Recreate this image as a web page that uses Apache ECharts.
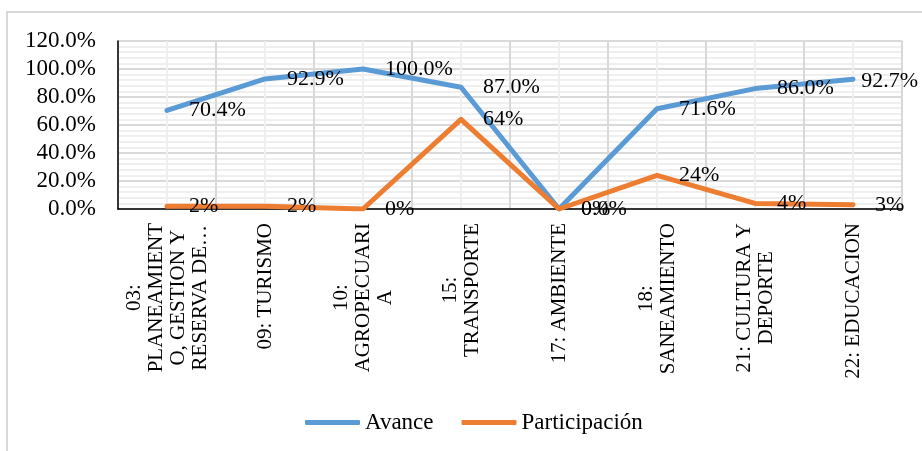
<!DOCTYPE html>
<html>
<head>
<meta charset="utf-8">
<script src="https://cdn.jsdelivr.net/npm/echarts@6/dist/echarts.min.js"></script>
<style>
  html, body { margin: 0; padding: 0; background: #fff; }
  #chart { width: 922px; height: 451px; }
</style>
</head>
<body>
<div id="chart"></div>
<script>
// Category names, wrapped the way they are printed under the axis
const categories = [
  '03:\nPLANEAMIENT\nO, GESTION Y\nRESERVA DE…',
  '09: TURISMO',
  '10:\nAGROPECUARI\nA',
  '15:\nTRANSPORTE',
  '17: AMBIENTE',
  '18:\nSANEAMIENTO',
  '21: CULTURA Y\nDEPORTE',
  '22: EDUCACION'
];

// Percent values per category
const avance = [70.4, 92.9, 100.0, 87.0, 0.0, 71.6, 86.0, 92.7];
const participacion = [2, 2, 0, 64, 0, 24, 4, 3];

// Value axis ticks (percent)
const yTicks = [0, 20, 40, 60, 80, 100, 120];

const FONT = "'Times New Roman', 'Liberation Serif', serif";
const BLUE = '#5B9BD5';
const ORANGE = '#ED7D31';

const chart = echarts.init(document.getElementById('chart'), null, { renderer: 'canvas' });

// keep value labels inside the chart's right edge
function keepInside(p) {
  const r = p.labelRect;
  const maxRight = 918;
  if (r.x + r.width > maxRight) {
    return { x: maxRight - r.width, y: r.y + r.height / 2, align: 'left', verticalAlign: 'middle' };
  }
}

function lineSeries(name, values, color, digits, z) {
  return {
    name: name,
    type: 'line',
    xAxisIndex: 0,
    data: values,
    symbol: 'circle',
    symbolSize: 2,
    showSymbol: true,
    color: color,
    itemStyle: { color: color },
    lineStyle: { color: color, width: 5, cap: 'round', join: 'round' },
    label: {
      show: true,
      position: 'right',
      distance: 21,
      offset: [0, 2],
      fontFamily: FONT,
      fontSize: 22,
      color: '#000',
      formatter: p => p.value.toFixed(digits) + '%'
    },
    labelLayout: keepInside,
    z: z
  };
}

const option = {
  animation: false,
  backgroundColor: '#fff',
  textStyle: { fontFamily: FONT, color: '#000' },
  graphic: [{
    type: 'rect',
    shape: { x: 7, y: 12, width: 1000, height: 1000 },
    style: { fill: 'none', stroke: '#d9d9d9', lineWidth: 2 },
    silent: true
  }],
  grid: { left: 118, top: 41, width: 784, height: 168, containLabel: false },
  legend: {
    left: 300,
    top: 406,
    itemWidth: 55,
    itemHeight: 5,
    itemGap: 28,
    icon: 'roundRect',
    textStyle: { fontFamily: FONT, fontSize: 23, color: '#000' },
    data: ['Avance', 'Participación']
  },
  xAxis: [{
    type: 'category',
    data: categories,
    boundaryGap: true,
    axisLine: { show: true, lineStyle: { color: '#000', width: 1.5 } },
    axisTick: { show: false },
    splitLine: { show: false },
    axisLabel: {
      interval: 0,
      rotate: 90,
      margin: 14,
      color: '#000',
      fontFamily: FONT,
      fontSize: 21,
      formatter: v => v.split('\n').map(l => '{c|' + l + '}').join('\n'),
      rich: { c: { align: 'center', fontFamily: FONT, fontSize: 21, lineHeight: 22, color: '#000' } }
    }
  }, {
    // vertical gridlines at category edges and centres
    type: 'value',
    min: 0,
    max: 8,
    interval: 1,
    position: 'bottom',
    axisLine: { show: false },
    axisTick: { show: false },
    axisLabel: { show: false },
    splitLine: { show: true, lineStyle: { color: '#d9d9d9', width: 2 } },
    minorTick: { show: false, splitNumber: 2 },
    minorSplitLine: { show: true, lineStyle: { color: '#efefef', width: 2 } }
  }],
  yAxis: {
    type: 'value',
    min: yTicks[0],
    max: yTicks[yTicks.length - 1],
    interval: yTicks[1] - yTicks[0],
    axisLine: { show: true, lineStyle: { color: '#000', width: 1.5 } },
    axisTick: { show: false },
    axisLabel: {
      margin: 22,
      color: '#000',
      fontFamily: FONT,
      fontSize: 23,
      formatter: v => v.toFixed(1) + '%'
    },
    splitLine: { show: true, lineStyle: { color: '#d9d9d9', width: 2 } },
    minorTick: { show: false, splitNumber: 5 },
    minorSplitLine: { show: true, lineStyle: { color: '#efefef', width: 2 } }
  },
  series: [
    lineSeries('Avance', avance, BLUE, 1, 2),
    lineSeries('Participación', participacion, ORANGE, 0, 3)
  ]
};

chart.setOption(option);
</script>
</body>
</html>
